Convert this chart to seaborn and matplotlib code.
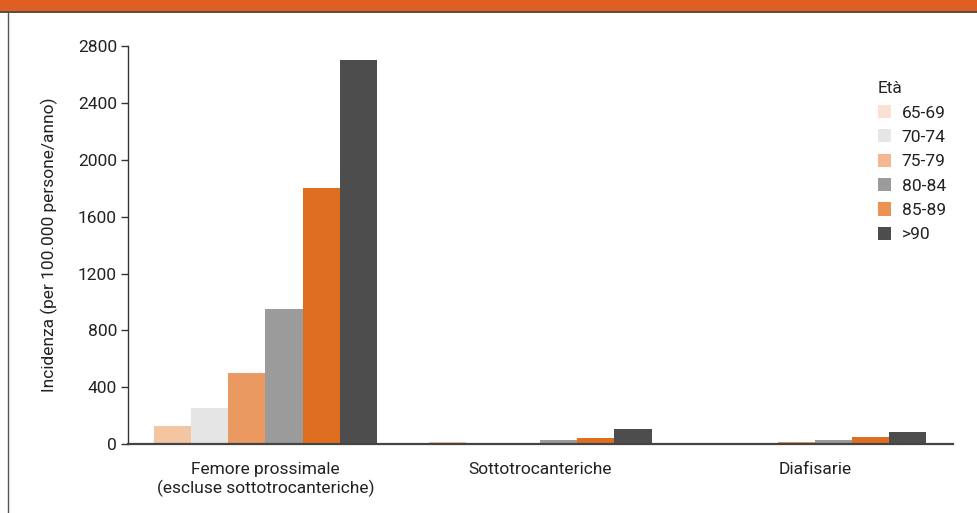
import matplotlib
matplotlib.use("Agg")
import matplotlib.pyplot as plt
from matplotlib.patches import Patch, Rectangle
from matplotlib.lines import Line2D
import seaborn as sns
import pandas as pd

# Incidence of femoral fractures by site and age group
sites = ["Femore prossimale\n(escluse sottotrocanteriche)", "Sottotrocanteriche", "Diafisarie"]
age_groups = ["65-69", "70-74", "75-79", "80-84", "85-89", ">90"]
femore = [130, 250, 500, 950, 1800, 2700]
sotto = [12, 10, 5, 28, 42, 105]
diafisarie = [3, 8, 12, 28, 48, 85]
yticks = [0, 400, 800, 1200, 1600, 2000, 2400, 2800]

bar_colors = ["#f4c5a1", "#e5e5e5", "#ea9a60", "#9b9b9b", "#e06e20", "#4d4d4d"]
legend_colors = ["#fbe1d3", "#e6e6e6", "#f4b790", "#9b9b9b", "#ec9353", "#4d4d4d"]

rows = []
for site, vals in zip(sites, [femore, sotto, diafisarie]):
    for age, v in zip(age_groups, vals):
        rows.append({"Sede": site, "Età": age, "Incidenza": v})
df = pd.DataFrame(rows)

sns.set_theme(style="white")
plt.rcParams["font.family"] = ["Roboto", "DejaVu Sans"]
FS = 12.5

fig = plt.figure(figsize=(9.77, 5.13), dpi=100)
ax = fig.add_axes([0.131, 0.1345, 0.844, 0.7755])

sns.barplot(data=df, x="Sede", y="Incidenza", hue="Età", order=sites,
            hue_order=age_groups, palette=bar_colors, width=0.81,
            saturation=1, linewidth=0, errorbar=None, legend=False, ax=ax)

ax.set_ylim(0, 2800)
ax.set_xlim(-0.5, 2.5)
ax.set_yticks(yticks)
ax.set_yticklabels([str(t) for t in yticks], fontsize=FS, color="#222222")
ax.tick_params(axis="y", left=True, length=5, width=1, color="#333333", pad=3)
ax.tick_params(axis="x", bottom=False, labelsize=FS, labelcolor="#222222", pad=7)
ax.set_xlabel("")
ax.set_ylabel("Incidenza (per 100.000 persone/anno)", fontsize=FS,
              color="#222222", labelpad=14)

for side in ["top", "right"]:
    ax.spines[side].set_visible(False)
ax.spines["left"].set_color("#333333")
ax.spines["left"].set_linewidth(1)
ax.spines["bottom"].set_color("#444444")
ax.spines["bottom"].set_linewidth(1.6)
ax.spines["bottom"].set_zorder(5)

handles = [Patch(facecolor=c, edgecolor="none") for c in legend_colors]
leg = ax.legend(handles, age_groups, title="Età", loc="upper left",
                bbox_to_anchor=(0.909, 0.912), frameon=False, fontsize=FS,
                title_fontsize=FS, handlelength=0.8, handleheight=0.8,
                handletextpad=0.6, labelspacing=0.5, alignment="left",
                borderaxespad=0, borderpad=0)
for t in leg.get_texts():
    t.set_color("#222222")

# Header band and frame
fig.patches.append(Rectangle((0, 1 - 11 / 513), 1, 11 / 513, transform=fig.transFigure,
                             facecolor="#de5f21", edgecolor="none", zorder=0))
fig.lines.append(Line2D([0, 1], [1 - 11.5 / 513] * 2, transform=fig.transFigure,
                        color="#3a2a20", linewidth=1.2))
fig.lines.append(Line2D([8 / 977] * 2, [0, 1 - 11.5 / 513], transform=fig.transFigure,
                        color="#555555", linewidth=1))

fig.savefig("out.png", dpi=100)
